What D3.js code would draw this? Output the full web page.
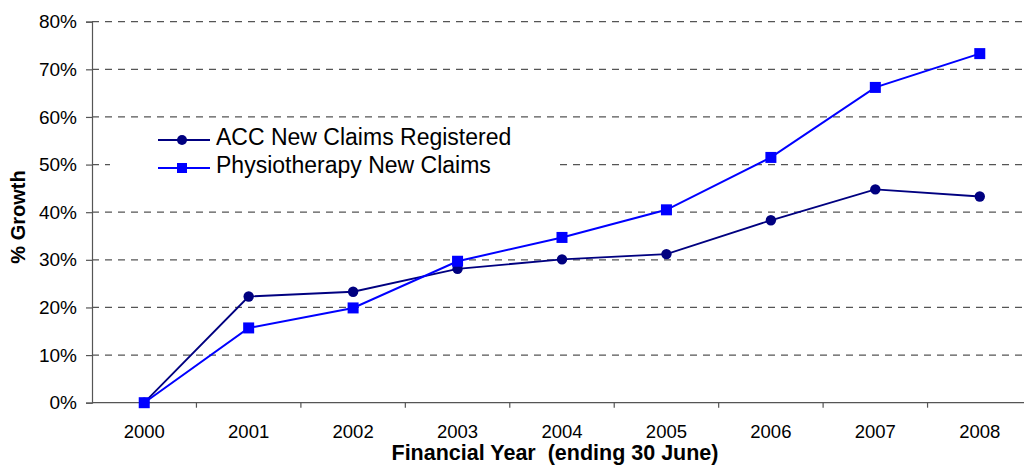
<!DOCTYPE html>
<html>
<head>
<meta charset="utf-8">
<script src="https://cdn.jsdelivr.net/npm/d3@7"></script>
<style>
  html, body { margin: 0; padding: 0; background: #fff; }
  svg { display: block; font-family: "Liberation Sans", Arial, sans-serif; }
</style>
</head>
<body>
<svg id="chart" width="1024" height="467"></svg>
<script>
const years = ["2000","2001","2002","2003","2004","2005","2006","2007","2008"];
const accClaims = [0, 22.3, 23.3, 28.1, 30.1, 31.2, 38.3, 44.8, 43.3];
const physioClaims = [0, 15.7, 19.9, 29.7, 34.7, 40.5, 51.5, 66.2, 73.3];
const yTicks = [0, 10, 20, 30, 40, 50, 60, 70, 80];
const seriesNames = ["ACC New Claims Registered", "Physiotherapy New Claims"];

(function () {
const svg = d3.select("#chart");
const pLeft = 92, pRight = 1032, pTop = 21.7, pBottom = 402.7;
const axisColor = "#555";

const x = d3.scaleBand().domain(years).range([pLeft, pRight]).padding(0);
const y = d3.scaleLinear().domain([0, 80]).range([pBottom, pTop]);

// gridlines
svg.append("g").selectAll("line")
  .data(yTicks.filter(t => t > 0))
  .join("line")
  .attr("x1", pLeft).attr("x2", pRight)
  .attr("y1", d => y(d)).attr("y2", d => y(d))
  .attr("stroke", "#555").attr("stroke-width", 1.2)
  .attr("stroke-dasharray", "7,6");

// y axis
const yAxis = d3.axisLeft(y).tickValues(yTicks).tickSize(6).tickPadding(9).tickFormat(d => d + "%");
const gy = svg.append("g").attr("transform", `translate(${pLeft},0)`).call(yAxis);
gy.select(".domain").attr("stroke", axisColor).attr("stroke-width", 1.2);
gy.selectAll(".tick line").attr("stroke", axisColor).attr("stroke-width", 1.2);
gy.selectAll(".tick text").attr("font-size", 19).attr("fill", "#000")
  .attr("font-family", "Liberation Sans, Arial, sans-serif");

// x axis with ticks on band boundaries
const gx = svg.append("g").attr("transform", `translate(0,${pBottom})`);
gx.append("line").attr("x1", pLeft).attr("x2", pRight).attr("y1", 0).attr("y2", 0)
  .attr("stroke", axisColor).attr("stroke-width", 1.2);
gx.selectAll("line.tk").data(years)
  .join("line").attr("class", "tk")
  .attr("x1", d => x(d) + x.bandwidth())
  .attr("x2", d => x(d) + x.bandwidth())
  .attr("y1", 0).attr("y2", 5)
  .attr("stroke", axisColor).attr("stroke-width", 1.2);
gx.selectAll("text").data(years).join("text")
  .attr("x", d => x(d) + x.bandwidth() / 2)
  .attr("y", 35)
  .attr("text-anchor", "middle")
  .attr("font-size", 18.5)
  .text(d => d);

// axis titles
svg.append("text")
  .attr("x", 555).attr("y", 460)
  .attr("text-anchor", "middle").attr("font-size", 21.5).attr("font-weight", "bold")
  .attr("xml:space", "preserve")
  .text("Financial Year  (ending 30 June)");
svg.append("text")
  .attr("transform", "translate(25,217) rotate(-90)")
  .attr("text-anchor", "middle").attr("font-size", 20).attr("font-weight", "bold")
  .text("% Growth");

// lines
const line = d3.line().x((d, i) => x(years[i]) + x.bandwidth() / 2).y(d => y(d));

svg.append("path").datum(accClaims).attr("d", line)
  .attr("fill", "none").attr("stroke", "#000080").attr("stroke-width", 1.8);
svg.append("path").datum(physioClaims).attr("d", line)
  .attr("fill", "none").attr("stroke", "#0000ff").attr("stroke-width", 2);

svg.append("g").selectAll("circle").data(accClaims).join("circle")
  .attr("cx", (d, i) => x(years[i]) + x.bandwidth() / 2)
  .attr("cy", d => y(d)).attr("r", 5.2).attr("fill", "#000080");

const sq = 11;
svg.append("g").selectAll("rect").data(physioClaims).join("rect")
  .attr("x", (d, i) => x(years[i]) + x.bandwidth() / 2 - sq / 2)
  .attr("y", d => y(d) - sq / 2).attr("width", sq).attr("height", sq)
  .attr("fill", "#0000ff");

// legend
const legend = svg.append("g");
legend.append("rect").attr("x", 110).attr("y", 122).attr("width", 448).attr("height", 62).attr("fill", "#fff");
const legRows = [
  { name: seriesNames[0], color: "#000080", shape: "circle", yy: 140 },
  { name: seriesNames[1], color: "#0000ff", shape: "rect", yy: 168 }
];
legRows.forEach(r => {
  legend.append("line").attr("x1", 158).attr("x2", 210).attr("y1", r.yy).attr("y2", r.yy)
    .attr("stroke", r.color).attr("stroke-width", 2);
  if (r.shape === "circle") {
    legend.append("circle").attr("cx", 182).attr("cy", r.yy).attr("r", 5).attr("fill", r.color);
  } else {
    legend.append("rect").attr("x", 177).attr("y", r.yy - 5).attr("width", 10).attr("height", 10).attr("fill", r.color);
  }
  legend.append("text").attr("x", 216).attr("y", r.yy + 5).attr("font-size", 23).text(r.name);
});
})();
</script>
</body>
</html>
